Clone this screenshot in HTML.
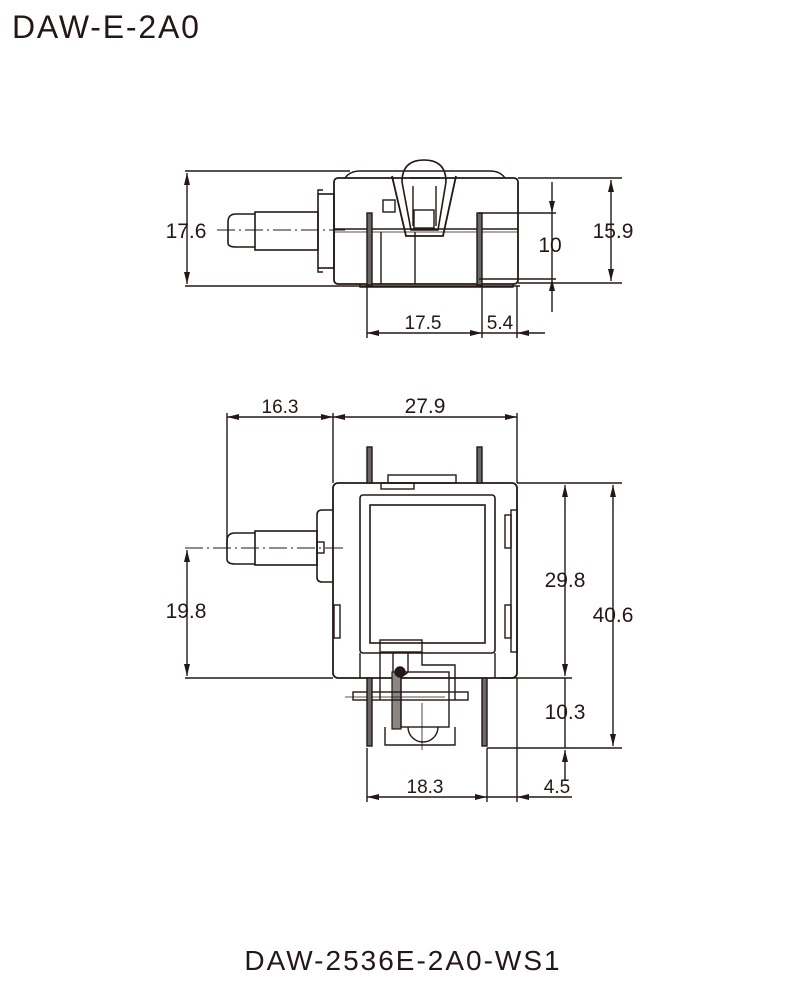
<!DOCTYPE html>
<html><head><meta charset="utf-8"><style>
html,body{margin:0;padding:0;background:#fff;}
svg{display:block;}
text{font-family:"Liberation Sans",sans-serif;fill:#231815;}
.d{font-size:21px;}
</style></head><body>
<svg width="800" height="984" viewBox="0 0 800 984" xmlns="http://www.w3.org/2000/svg">
<defs>
<marker id="a" viewBox="0 0 12 6" refX="12" refY="3" markerWidth="12" markerHeight="6" orient="auto-start-reverse" markerUnits="userSpaceOnUse"><path d="M0,0 L12,3 L0,6 Z" fill="#231815"/></marker>
</defs>
<text x="12" y="38" font-size="32" letter-spacing="1.8">DAW-E-2A0</text>
<text x="403" y="970" font-size="28" letter-spacing="2" text-anchor="middle">DAW-2536E-2A0-WS1</text>

<g stroke="#231815" fill="none" stroke-width="1.4">
<!-- ===== TOP VIEW ===== -->
<line x1="185" y1="171" x2="350" y2="171"/>
<line x1="185" y1="286" x2="520" y2="286"/>
<line x1="187" y1="173" x2="187" y2="284" marker-start="url(#a)" marker-end="url(#a)"/>
<path d="M345 178 Q350 171 360 171 L490 171 Q500 171 505 178"/>
<rect x="334" y="178" width="184" height="106" rx="4" stroke-width="1.8"/>
<line x1="334" y1="229" x2="518" y2="229"/>
<line x1="334" y1="232" x2="518" y2="232" stroke-width="0.8"/>
<path d="M360 284 L360 287 L513 287 L513 284"/>
<!-- shaft -->
<path d="M255 214 L236 214 Q228 214 228 222 L228 243 Q228 247 236 247 L255 247" stroke-width="1.6"/>
<rect x="255" y="212" width="63" height="38" stroke-width="1.6"/>
<rect x="318" y="194" width="16" height="74" stroke-width="1.6"/>
<path d="M318 194 L318 190 L323 190 M318 268 L318 272 L323 272"/>
<line x1="217" y1="230" x2="345" y2="230" stroke-dasharray="18 4 2 4" stroke-width="1"/>
<!-- pins -->
<rect x="367" y="213" width="5" height="72" stroke-width="1.4" fill="#6b6766"/>
<rect x="477" y="213" width="5" height="72" stroke-width="1.4" fill="#6b6766"/>
<line x1="381" y1="232" x2="381" y2="284"/>
<line x1="415" y1="232" x2="415" y2="284"/>
<!-- clip -->
<path d="M392 176 L406 236 L443 236 L456 176" stroke-width="1.8"/>
<path d="M402 182 Q402 160 424 160 Q446 160 446 182 L438 230 L411 230 Z" stroke-width="1.6"/>
<path d="M410 178 L440 178 M413 186 L413 226 M436 186 L436 226"/>
<rect x="383" y="200" width="12" height="12"/>
<rect x="414" y="210" width="20" height="18"/>
<!-- right dims -->
<line x1="518" y1="178" x2="622" y2="178"/>
<line x1="518" y1="283" x2="622" y2="283"/>
<line x1="611" y1="180" x2="611" y2="281" marker-start="url(#a)" marker-end="url(#a)"/>
<line x1="479" y1="213" x2="556" y2="213"/>
<line x1="479" y1="279" x2="556" y2="279"/>
<line x1="552" y1="182" x2="552" y2="213" marker-end="url(#a)"/>
<line x1="552" y1="312" x2="552" y2="279" marker-end="url(#a)"/>
<line x1="552" y1="213" x2="552" y2="279"/>
<!-- bottom dims -->
<line x1="367" y1="285" x2="367" y2="338"/>
<line x1="482" y1="285" x2="482" y2="338"/>
<line x1="517" y1="286" x2="517" y2="338"/>
<line x1="367" y1="333" x2="482" y2="333" marker-start="url(#a)" marker-end="url(#a)"/>
<line x1="545" y1="333" x2="517" y2="333" marker-end="url(#a)"/>
<line x1="482" y1="333" x2="517" y2="333"/>

<!-- ===== BOTTOM VIEW ===== -->
<line x1="227" y1="413" x2="227" y2="548"/>
<line x1="333" y1="413" x2="333" y2="483"/>
<line x1="517" y1="413" x2="517" y2="483"/>
<line x1="227" y1="417" x2="333" y2="417" marker-start="url(#a)" marker-end="url(#a)"/>
<line x1="333" y1="417" x2="517" y2="417" marker-start="url(#a)" marker-end="url(#a)"/>
<rect x="333" y="483" width="184" height="195" rx="5" stroke-width="1.8"/>
<rect x="360" y="495" width="135" height="158" rx="3" stroke-width="1.6"/>
<rect x="370" y="505" width="115" height="138" stroke-width="1.6"/>
<rect x="334" y="605" width="6" height="33"/>
<rect x="505" y="515" width="6" height="33"/>
<rect x="505" y="605" width="6" height="33"/>
<rect x="511" y="510" width="6" height="142"/>
<line x1="360" y1="653" x2="360" y2="678"/>
<line x1="495" y1="653" x2="495" y2="678"/>
<!-- top pins & tab -->
<rect x="367" y="447" width="5" height="36" stroke-width="1.4" fill="#6b6766"/>
<rect x="477" y="447" width="5" height="36" stroke-width="1.4" fill="#6b6766"/>
<rect x="388" y="475" width="68" height="8"/>
<rect x="381" y="483" width="33" height="6"/>
<!-- shaft -->
<path d="M255 533 L235 533 Q227 533 227 541 L227 559 Q227 564 235 564 L255 564" stroke-width="1.6"/>
<rect x="255" y="531" width="62" height="34" stroke-width="1.6"/>
<path d="M333 510 L322 510 Q317 510 317 515 L317 577 Q317 582 322 582 L333 582" stroke-width="1.6"/>
<rect x="317" y="542" width="7" height="11"/>
<line x1="185" y1="548" x2="345" y2="548" stroke-dasharray="18 4 2 4" stroke-width="1"/>
<line x1="185" y1="678" x2="333" y2="678"/>
<line x1="187" y1="550" x2="187" y2="676" marker-start="url(#a)" marker-end="url(#a)"/>
<!-- mechanism -->
<rect x="380" y="640" width="42" height="12" stroke-width="1.4"/>
<path d="M393 652 L393 672 Q400 680 408 672 L408 652"/>
<path d="M380 652 L380 700 M422 652 L422 665 L455 665 L455 700"/>
<rect x="392" y="672" width="9" height="57" fill="#8a8684" stroke-width="1.2"/>
<rect x="401" y="672" width="48" height="55"/>
<circle cx="400" cy="672" r="5" fill="#231815"/>
<path d="M385 727 L385 745 L455 745 L455 727"/>
<path d="M408 727 A15 15 0 0 0 438 727"/>
<rect x="353" y="692" width="115" height="8"/>
<line x1="345" y1="697" x2="445" y2="697" stroke-width="0.8"/>
<line x1="422" y1="703" x2="422" y2="750" stroke-width="0.8"/>
<rect x="367" y="678" width="5" height="68" stroke-width="1.4" fill="#6b6766"/>
<rect x="482" y="678" width="5" height="68" stroke-width="1.4" fill="#6b6766"/>
<!-- right dims -->
<line x1="517" y1="483" x2="622" y2="483"/>
<line x1="500" y1="678" x2="572" y2="678"/>
<line x1="487" y1="748" x2="622" y2="748"/>
<line x1="565" y1="485" x2="565" y2="676" marker-start="url(#a)" marker-end="url(#a)"/>
<line x1="565" y1="678" x2="565" y2="748"/>
<line x1="565" y1="780" x2="565" y2="750" marker-end="url(#a)"/>
<line x1="613" y1="485" x2="613" y2="746" marker-start="url(#a)" marker-end="url(#a)"/>
<!-- bottom dims -->
<line x1="367" y1="748" x2="367" y2="802"/>
<line x1="487" y1="748" x2="487" y2="802"/>
<line x1="517" y1="678" x2="517" y2="802"/>
<line x1="367" y1="797" x2="487" y2="797" marker-start="url(#a)" marker-end="url(#a)"/>
<line x1="572" y1="797" x2="517" y2="797" marker-end="url(#a)"/>
<line x1="487" y1="797" x2="517" y2="797"/>
</g>

<g class="d">
<text x="186" y="238" text-anchor="middle">17.6</text>
<text x="613" y="238" text-anchor="middle">15.9</text>
<text x="550" y="252" text-anchor="middle">10</text>
<text x="423" y="329" text-anchor="middle" font-size="19">17.5</text>
<text x="500" y="329" text-anchor="middle" font-size="19">5.4</text>
<text x="280" y="413" text-anchor="middle" font-size="19">16.3</text>
<text x="425" y="413" text-anchor="middle">27.9</text>
<text x="186" y="618" text-anchor="middle">19.8</text>
<text x="565" y="587" text-anchor="middle">29.8</text>
<text x="613" y="622" text-anchor="middle">40.6</text>
<text x="565" y="719" text-anchor="middle">10.3</text>
<text x="425" y="793" text-anchor="middle" font-size="19">18.3</text>
<text x="557" y="793" text-anchor="middle" font-size="19">4.5</text>
</g>
</svg>
</body></html>
